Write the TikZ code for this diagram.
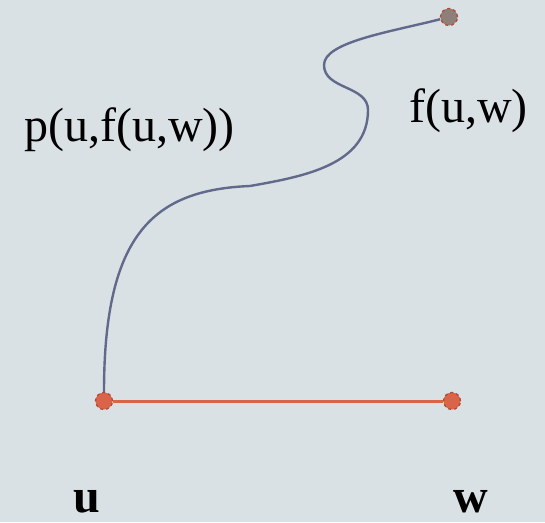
\documentclass[tikz,border=0pt]{standalone}
\usepackage{fontspec}
\setmainfont{Liberation Serif}
\usetikzlibrary{positioning}

\definecolor{bgcol}{HTML}{DAE1E5}
\definecolor{edgeorange}{HTML}{D9644A}
\definecolor{dotrim}{HTML}{B24A3A}
\definecolor{pathblue}{HTML}{626A8C}
\definecolor{topfill}{HTML}{8E8078}

\tikzset{
  vertex/.style={circle, fill=edgeorange, draw=dotrim, dashed, line width=1.3pt, minimum size=17pt, inner sep=0pt},
  lbl/.style={font=\fontsize{48}{54}\selectfont, inner sep=0pt},
  boldlbl/.style={font=\fontsize{48}{54}\selectfont\bfseries, inner sep=0pt},
}

\begin{document}
\begin{tikzpicture}[x=1pt, y=1pt]
    % Background
    \fill[bgcol] (0,0) rectangle (545,522);
    \useasboundingbox (0,0) rectangle (545,522);

    % Vertices
    \node[vertex] (u) at (104,121) {};
    \node[vertex] (w) at (452,121) {};
    \node[vertex, fill=topfill] (fuw) at (449,505) {};

    % Path from u to f(u,w)
    \draw[pathblue, line width=2.4pt] (u) .. controls (104,290) and (155,332) .. (250,336)
        to[out=10, in=-90] (368,412)
        to[out=90, in=-90] (324,457)
        .. controls (324,480) and (390,490) .. (fuw);

    % Edge u -- w
    \draw[edgeorange, line width=3pt] (u) -- (w);

    % Labels
    \node[lbl, anchor=base west] (plabel) at (24,380) {p(u,f(u,w))};
    \node[lbl, anchor=base west] (flabel) at (409,399) {f(u,w)};
    \node[boldlbl, anchor=base] (ulabel) at (87,10) {u};
    \node[boldlbl, anchor=base] (wlabel) at (471,10) {w};
\end{tikzpicture}
\end{document}
